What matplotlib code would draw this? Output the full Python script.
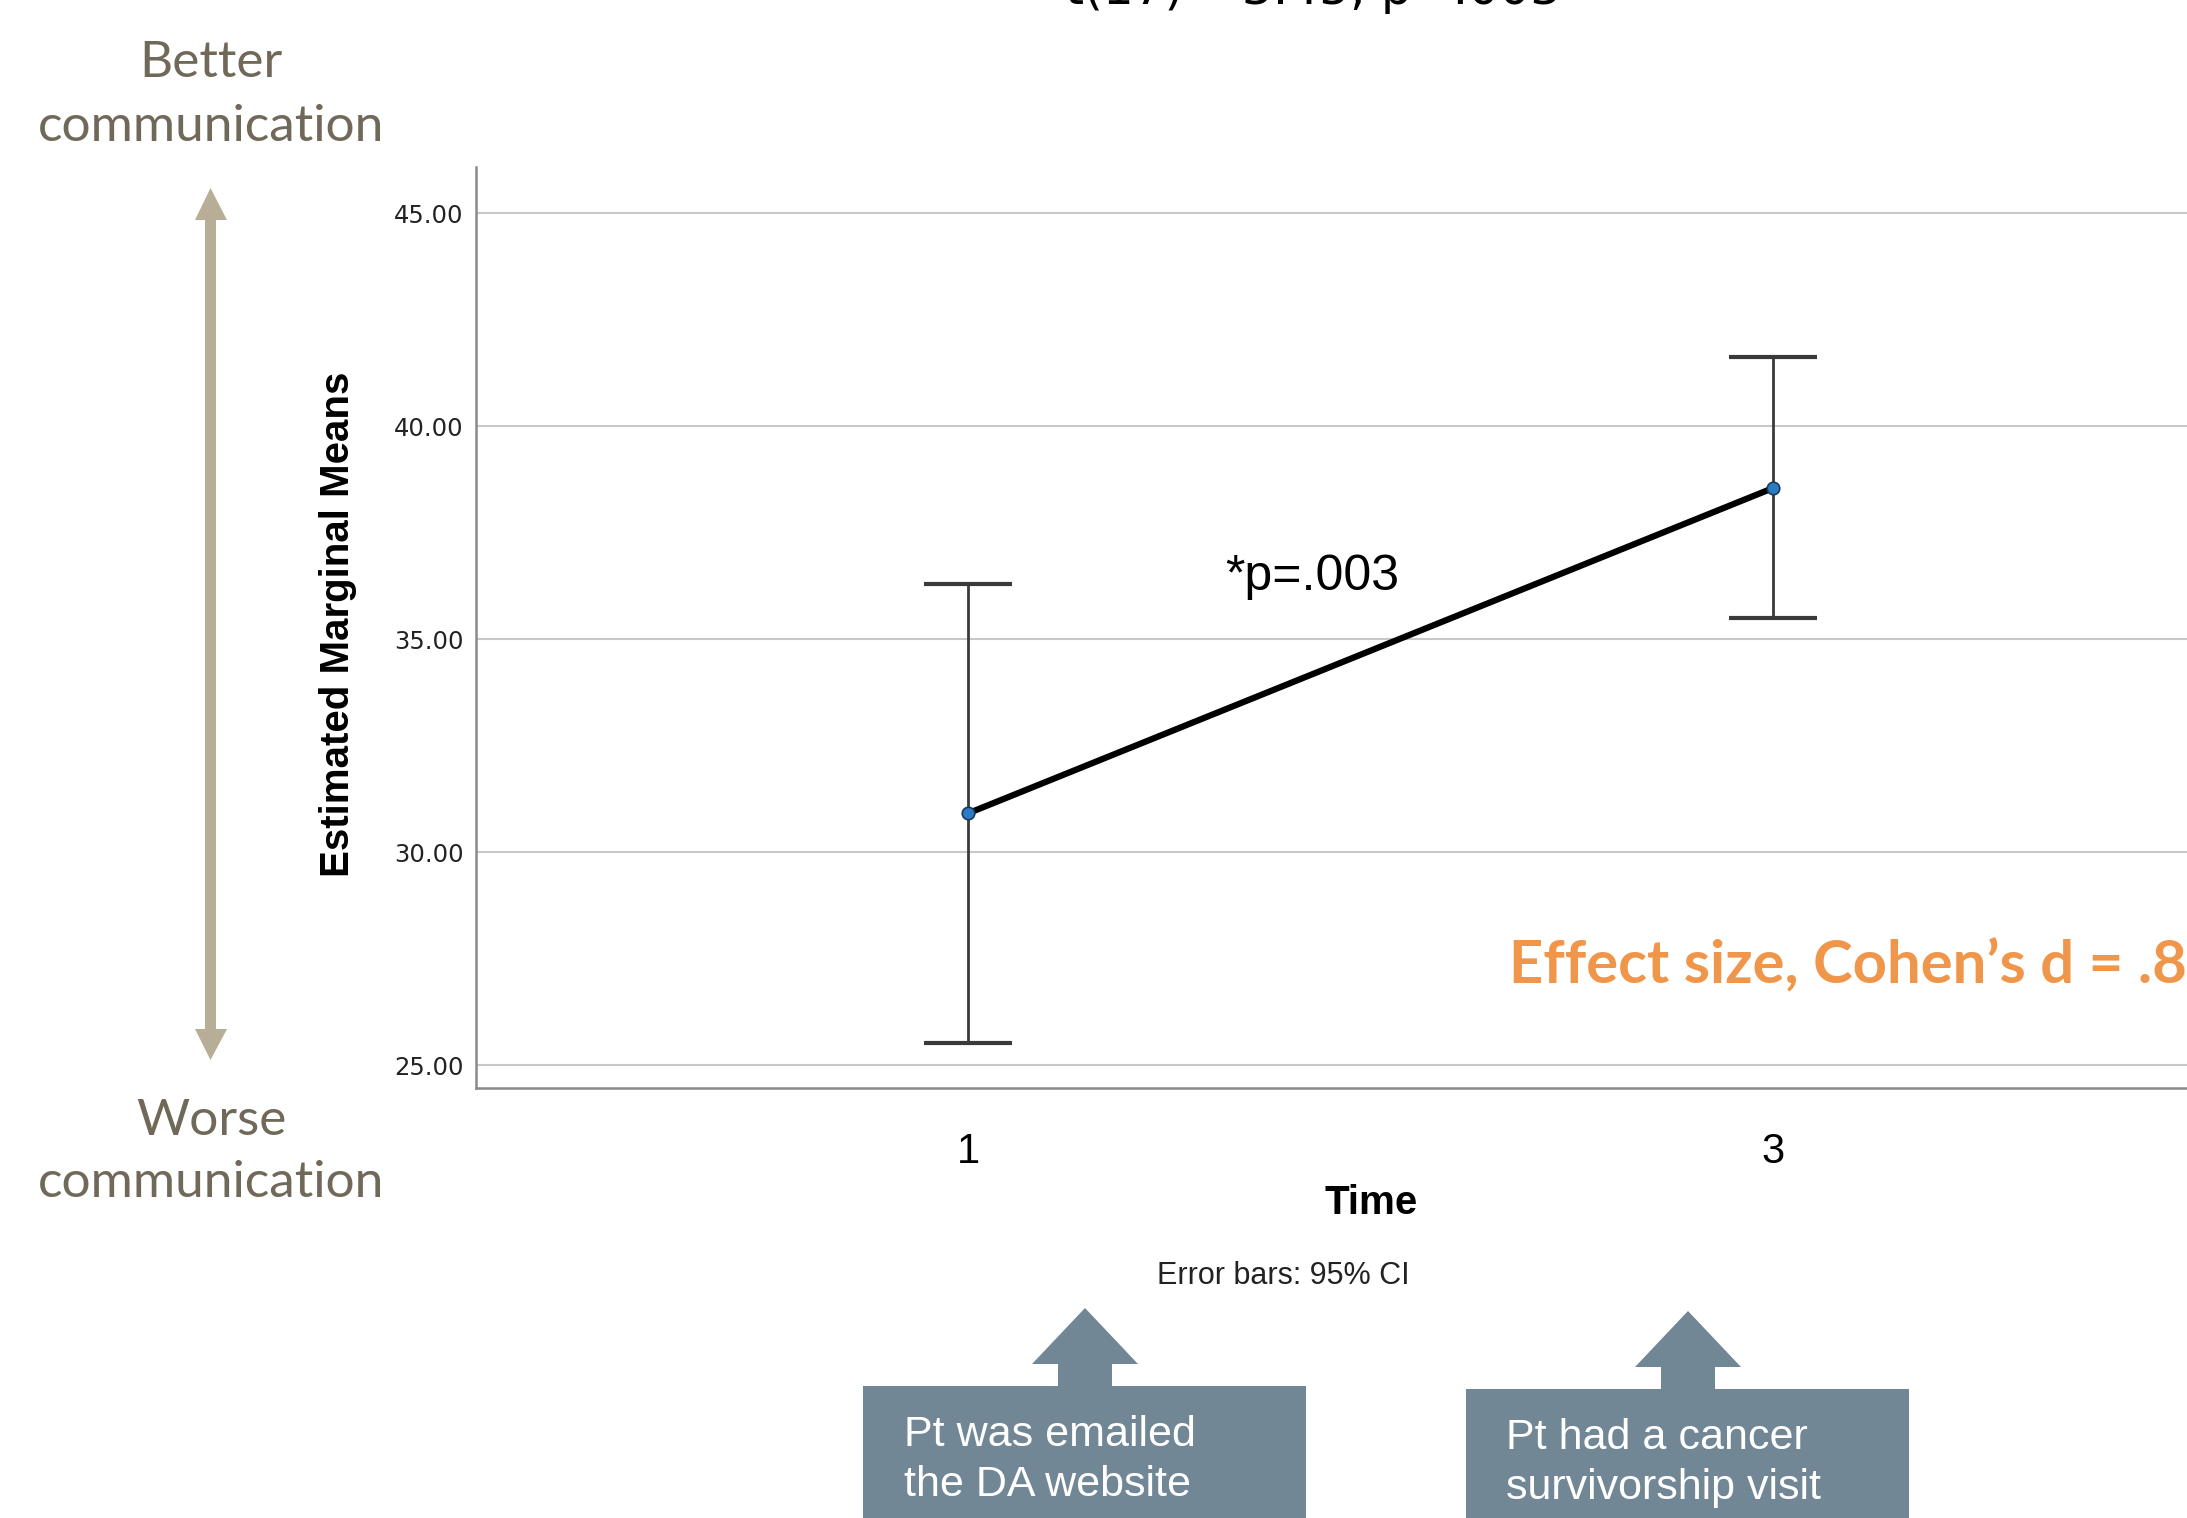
import matplotlib
matplotlib.use("Agg")
import numpy as np
import matplotlib.pyplot as plt
from matplotlib.patches import Polygon

# -----------------------------------------------------------------------------
# Data
# -----------------------------------------------------------------------------
time_labels = ["1", "3"]
means       = [30.92, 38.55]
ci_lower    = [25.52, 35.51]
ci_upper    = [36.29, 41.63]
y_ticks     = [25, 30, 35, 40, 45]

W, H = 2187, 1518


def px(x, y):
    """Pixel position on the reference -> figure fraction."""
    return (x / W, 1 - y / H)


fig = plt.figure(figsize=(W / 100, H / 100), dpi=100)
fig.patch.set_facecolor("white")

# axes runs past the right edge of the picture, like the cropped screenshot
ax = fig.add_axes([476 / W, 1 - 1088 / H, 1 - 476 / W, 921 / H])

pos   = np.arange(len(time_labels))
means = np.array(means)
yerr  = [means - np.array(ci_lower), np.array(ci_upper) - means]

ax.errorbar(pos, means, yerr=yerr, fmt="none", ecolor="#3a3a3a",
            elinewidth=2.0, capsize=32, capthick=3, zorder=2)
ax.plot(pos, means, color="black", linewidth=4.5, zorder=3)
ax.plot(pos, means, linestyle="none", marker="o", markersize=9,
        markerfacecolor="#2b7cc4", markeredgecolor="#1a3a5a",
        markeredgewidth=1.2, zorder=4)

ax.set_xlim(-0.612, 1.515)
ax.set_ylim(24.47, 46.09)
ax.set_yticks(y_ticks)
ax.set_yticklabels([f"{v:.2f}" for v in y_ticks])
ax.set_xticks(pos)
ax.set_xticklabels(time_labels)

ax.yaxis.grid(True, color="#c8c8c8", linewidth=1.5)
ax.set_axisbelow(True)
for side in ["top", "right"]:
    ax.spines[side].set_visible(False)
for side in ["left", "bottom"]:
    ax.spines[side].set_color("#8a8a8a")
    ax.spines[side].set_linewidth(1.8)

ax.tick_params(axis="y", length=0, pad=9, labelsize=17.5, labelcolor="#222222")
ax.tick_params(axis="x", length=0, pad=32, labelsize=30)
for lbl in ax.get_yticklabels():
    lbl.set_family("DejaVu Sans")
for lbl in ax.get_xticklabels():
    lbl.set_family("Liberation Sans")

ax.set_xlabel("Time", fontsize=29, fontweight="bold", family="Liberation Sans")
ax.xaxis.set_label_coords(0.523, -0.104)
ax.set_ylabel("Estimated Marginal Means", fontsize=29, fontweight="bold",
              family=["Liberation Sans Narrow", "Liberation Sans"])
ax.yaxis.set_label_coords(-0.0696, 0.503)

# in-plot annotations
ax.text(0.319, 36.46, "*p=.003", fontsize=36, family="Liberation Sans",
        ha="left", va="center", color="black")
ax.text(0.672, 27.32, "Effect size, Cohen\u2019s d = .8", fontsize=43,
        fontweight="bold", family="Lato", color="#f0964b",
        ha="left", va="center", clip_on=False)

# -----------------------------------------------------------------------------
# Text around the chart
# -----------------------------------------------------------------------------
fig.text(*px(1065, 4), "t(17)=-3.45, p=.003", fontsize=35,
         family="DejaVu Sans", ha="left", va="baseline")

fig.text(*px(1283, 1276), "Error bars: 95% CI", fontsize=22,
         family="Liberation Sans", ha="center", va="center", color="#222222")

side_col = "#706858"
fig.text(*px(211, 63), "Better", fontsize=37, family="Lato",
         ha="center", va="center", color=side_col)
fig.text(*px(211, 127), "communication", fontsize=37, family="Lato",
         ha="center", va="center", color=side_col)
fig.text(*px(211, 1121), "Worse", fontsize=37, family="Lato",
         ha="center", va="center", color=side_col)
fig.text(*px(211, 1183), "communication", fontsize=37, family="Lato",
         ha="center", va="center", color=side_col)

# double headed arrow on the left
arrow_pts = [(205, 220), (195, 220), (210.5, 188), (227, 220), (216, 220),
             (216, 1029), (227, 1029), (210.5, 1060), (195, 1029), (205, 1029)]
fig.add_artist(Polygon([px(x, y) for x, y in arrow_pts], closed=True,
                       facecolor="#b8ad96", edgecolor="none",
                       transform=fig.transFigure))

# -----------------------------------------------------------------------------
# Callout boxes under the time points
# -----------------------------------------------------------------------------
box_col = "#718796"


def callout(x0, x1, top, cx, tip, lines, tx):
    pts = [(x0, 1700), (x0, top), (cx - 27, top), (cx - 27, tip + 56),
           (cx - 53, tip + 56), (cx, tip), (cx + 53, tip + 56),
           (cx + 27, tip + 56), (cx + 27, top), (x1, top), (x1, 1700)]
    fig.add_artist(Polygon([px(x, y) for x, y in pts], closed=True,
                           facecolor=box_col, edgecolor="none",
                           transform=fig.transFigure))
    for i, line in enumerate(lines):
        fig.text(*px(tx, top + 49 + i * 50), line, fontsize=31,
                 family="Liberation Sans", color="white",
                 ha="left", va="center")


callout(863, 1306, 1386, 1085, 1308, ["Pt was emailed", "the DA website"], 904)
callout(1466, 1909, 1389, 1688, 1311, ["Pt had a cancer", "survivorship visit"], 1506)

fig.savefig("out.png", dpi=100)
